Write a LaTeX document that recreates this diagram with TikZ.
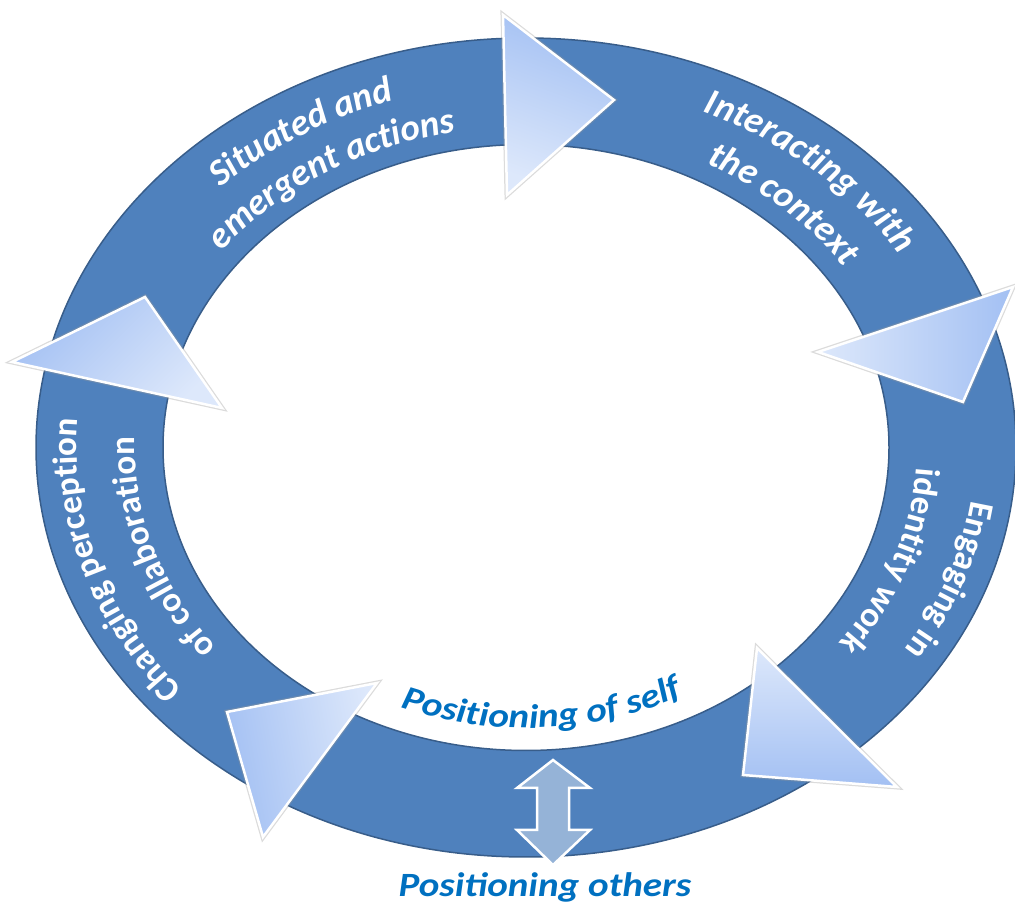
\documentclass[tikz,border=0pt]{standalone}
\usepackage{fontspec}
\usetikzlibrary{decorations.text,calc}
\newfontfamily\carl{Carlito}
\newfontfamily\carlwide[FakeStretch=1.15]{Carlito}
\newcommand\rfb{\fontsize{35}{40}\selectfont\carl\bfseries}
\newcommand\rfi{\fontsize{37}{42}\selectfont\carl\bfseries\itshape}
\newcommand\pfi{\fontsize{34}{40}\selectfont\carlwide\bfseries\itshape}
\definecolor{ringfill}{RGB}{79,129,189}
\definecolor{ringline}{RGB}{56,93,138}
\definecolor{tridark}{RGB}{163,192,243}
\definecolor{trilight}{RGB}{221,232,251}
\definecolor{arrowfill}{RGB}{149,179,215}
\definecolor{posblue}{RGB}{0,112,192}
\tikzset{
  tri/.style={shade, top color=tridark, bottom color=trilight, draw=white, line width=2.5pt, line join=miter},
  trishadow/.style={draw=black!40, line width=5pt, opacity=0.35, line join=miter},
  ringtext/.style={decorate, decoration={text along path, text align=center, text color=white, text={#1}}},
  postext/.style={decorate, decoration={text along path, text align=center, text color=posblue, text={#1}}}
}
\begin{document}
\begin{tikzpicture}[x=1pt,y=1pt]
\useasboundingbox (0,0) rectangle (1015,907);
\coordinate (C) at (526,459.5);
% ring
\fill[ringfill, even odd rule] (C) ellipse[x radius=490pt, y radius=409.5pt]
  (C) ellipse[x radius=363pt, y radius=303pt];
\draw[ringline, line width=1.5pt] (C) ellipse[x radius=490pt, y radius=409.5pt];
\draw[ringline, line width=1.5pt] (C) ellipse[x radius=363pt, y radius=303pt];
% triangles
\path[trishadow] (503,892) -- (614,807) -- (507,712) -- cycle;
\path[tri, shading angle=-20] (503,892) -- (614,807) -- (507,712) -- cycle;
\path[trishadow] (818,555) -- (1013,620) -- (963,505) -- cycle;
\path[tri, shading angle=-90] (818,555) -- (1013,620) -- (963,505) -- cycle;
\path[trishadow] (757,259) -- (743,132) -- (897,120) -- cycle;
\path[tri, shading angle=180] (757,259) -- (743,132) -- (897,120) -- cycle;
\path[trishadow] (227,195) -- (377,224) -- (263,70) -- cycle;
\path[tri, shading angle=100] (227,195) -- (377,224) -- (263,70) -- cycle;
\path[trishadow] (12,545) -- (145,610) -- (222,499) -- cycle;
\path[tri, shading angle=45] (12,545) -- (145,610) -- (222,499) -- cycle;
% double arrow
\path[draw=white, line width=2.5pt, fill=arrowfill, line join=miter]
  (553,147) -- (590,119) -- (569,119) -- (569,77) -- (590,77) -- (553,42)
  -- (517,77) -- (537,77) -- (537,119) -- (517,119) -- cycle;
% ring texts
\path[ringtext={|\rfi|Situated and}] ($(C)+(167:436pt and 364pt)$)
  arc[start angle=167, end angle=79, x radius=436pt, y radius=364pt];
\path[ringtext={|\rfi|emergent actions}] ($(C)+(167:384.6pt and 321.1pt)$)
  arc[start angle=167, end angle=79, x radius=384.6pt, y radius=321.1pt];
\path[ringtext={|\rfi|Interacting with}] ($(C)+(91:439.2pt and 366.9pt)$)
  arc[start angle=91, end angle=3, x radius=439.2pt, y radius=366.9pt];
\path[ringtext={|\rfi|the context}] ($(C)+(90:384.6pt and 321.1pt)$)
  arc[start angle=90, end angle=2, x radius=384.6pt, y radius=321.1pt];
\path[ringtext={|\rfb|Engaging in}] ($(C)+(22:449.4pt and 375.4pt)$)
  arc[start angle=22, end angle=-60, x radius=449.4pt, y radius=375.4pt];
\path[ringtext={|\rfb|identity work}] ($(C)+(22:391pt and 326.4pt)$)
  arc[start angle=22, end angle=-60, x radius=391pt, y radius=326.4pt];
\path[ringtext={|\rfb|Changing perception}] ($(C)+(238:449.4pt and 375.4pt)$)
  arc[start angle=238, end angle=156, x radius=449.4pt, y radius=375.4pt];
\path[ringtext={|\rfb|of collaboration}] ($(C)+(238:391pt and 326.4pt)$)
  arc[start angle=238, end angle=156, x radius=391pt, y radius=326.4pt];
% positioning texts
\path[postext={|\pfi|Positioning of self}] ($(C)+(-122:336pt and 280.5pt)$)
  arc[start angle=-122, end angle=-52, x radius=336pt, y radius=280.5pt];
\node[font=\pfi, text=posblue, anchor=base, inner sep=0pt] (others) at (545,10) {Positioning others};
\end{tikzpicture}
\end{document}
